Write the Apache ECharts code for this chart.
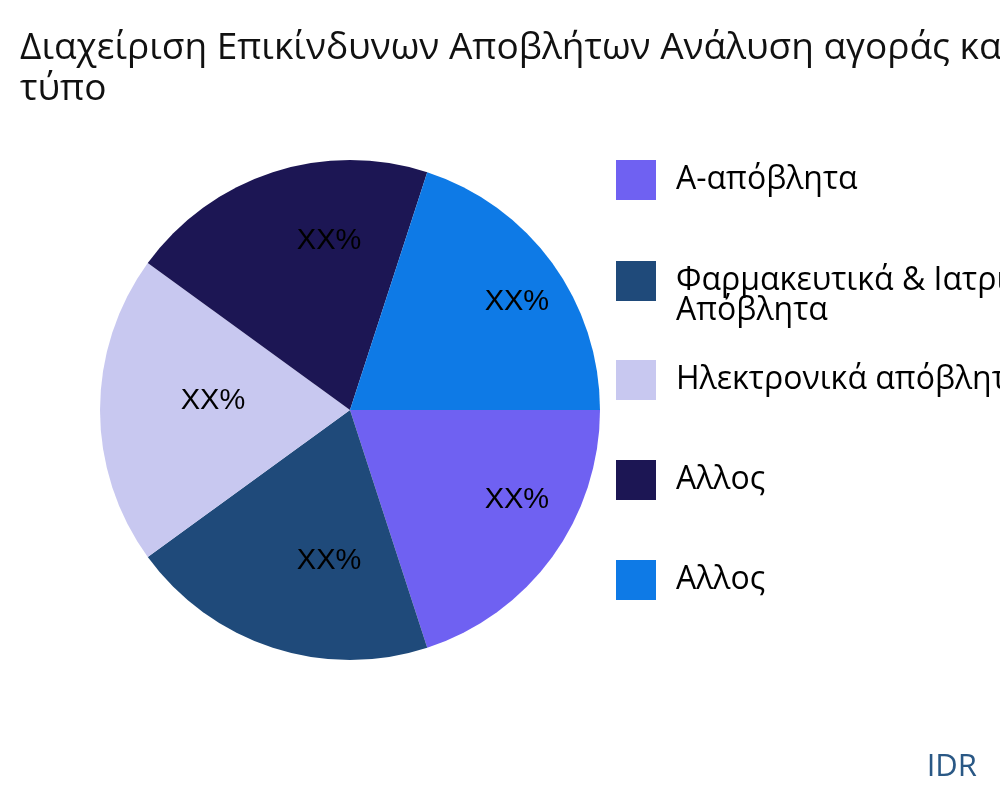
<!DOCTYPE html>
<html>
<head>
<meta charset="utf-8">
<script src="https://cdn.jsdelivr.net/npm/echarts@6/dist/echarts.min.js"></script>
<style>html,body{margin:0;padding:0;background:#fff}#c{width:1000px;height:800px}</style>
</head>
<body>
<div id="c"></div>
<script>
var titleText = "Διαχείριση Επικίνδυνων Αποβλήτων Ανάλυση αγοράς κατά\nτύπο";
var categories = ["A-απόβλητα", "Φαρμακευτικά & Ιατρικά\nΑπόβλητα", "Ηλεκτρονικά απόβλητα", "Αλλος", "Αλλος"];
var values = [20, 20, 20, 20, 20];
var labels = ["XX%", "XX%", "XX%", "XX%", "XX%"];
var colors = ["#6f61f2", "#1f4a7a", "#c8c8f0", "#1c1654", "#0e7ae6"];

var chart = echarts.init(document.getElementById('c'));
var pieData = categories.map(function (n, i) {
  return { name: n, value: values[i], itemStyle: { color: colors[i] } };
});
var labelData = categories.map(function (n, i) {
  return { name: n, value: values[i], label: { formatter: labels[i] } };
});
var legends = categories.map(function (n, i) {
  var multi = n.indexOf('\n') >= 0;
  return {
    orient: 'vertical', left: 616, top: 160 + 100 * i - (multi ? 25 : 0), padding: 0,
    itemWidth: 40, itemHeight: 40, icon: 'rect', selectedMode: false,
    formatter: function (name) { return name.indexOf('\n') >= 0 ? '\n' + name : name; },
    textStyle: { fontFamily: 'Open Sans', fontSize: 32, color: '#000', lineHeight: 30,
      padding: [0, 0, 0, 15] },
    data: [{ name: n, itemStyle: { color: colors[i] } }]
  };
});
chart.setOption({
  animation: false,
  title: [
    { text: titleText, left: 20, top: 28, padding: 0,
      textStyle: { fontFamily: 'Open Sans', fontSize: 37, fontWeight: 'normal', color: '#111', lineHeight: 41 } },
    { text: 'IDR', right: 18, bottom: 12,
      textStyle: { fontFamily: 'Open Sans', fontSize: 31, fontWeight: 'normal', color: '#2a5885' } }
  ],
  legend: legends,
  series: [
    { type: 'pie', center: [350, 410], radius: [0, 250], startAngle: 0, clockwise: true,
      label: { show: false }, labelLine: { show: false }, silent: true,
      data: pieData },
    { type: 'pie', center: [350, 410], radius: [80, 250], startAngle: 0, clockwise: true,
      silent: true, itemStyle: { color: 'rgba(0,0,0,0)' },
      label: { show: true, position: 'inside', fontFamily: 'Liberation Sans', fontSize: 29,
        color: '#000', offset: [31, -9] },
      labelLine: { show: false }, legendHoverLink: false,
      data: labelData }
  ]
});
</script>
</body>
</html>
